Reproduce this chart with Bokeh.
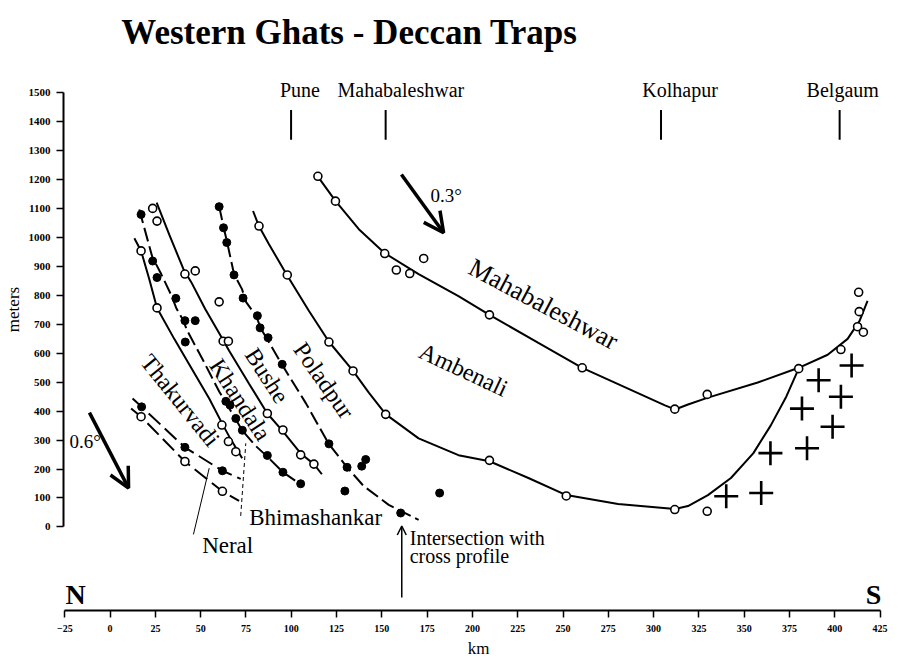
import math
from bokeh.plotting import figure
from bokeh.models import Range1d, FixedTicker, Arrow, OpenHead
from bokeh.core.properties import value
from bokeh.embed import file_html
from bokeh.resources import INLINE

# ---------------- data (km along profile, metres) ----------------
x_ticks = [-25, 0, 25, 50, 75, 100, 125, 150, 175, 200, 225, 250, 275, 300, 325, 350, 375, 400, 425]
y_ticks = list(range(0, 1501, 100))

city_names = ["Pune", "Mahabaleshwar", "Kolhapur", "Belgaum"]
city_km = [99.9, 152.1, 304.1, 402.7]
city_label_km = [104.8, 160.5, 314.6, 404.4]

# open-circle samples
mahab_km = [114.7, 124.4, 151.6, 158.0, 165.4, 173.1, 209.4, 260.6, 311.7, 329.6, 380.1, 403.4, 412.6, 415.8, 413.5, 413.2]
mahab_m = [1212, 1126, 945, 888, 876, 928, 733, 550, 407, 458, 547, 613, 692, 673, 744, 811]
poladpur_km = [82.2, 97.8, 120.8, 134.1, 152.1, 209.4, 251.8, 311.7, 329.6]
poladpur_m = [1040, 871, 639, 539, 389, 230, 107, 60, 54]
khandala_km = [23.5, 25.9, 41.3, 47.0, 60.2, 62.4, 65.3, 86.8, 95.4, 105.2, 112.5]
khandala_m = [1101, 1057, 874, 885, 778, 642, 642, 392, 335, 249, 217]
bhima_km = [17.1, 25.9, 61.7, 65.3, 69.4]
bhima_m = [954, 757, 352, 295, 260]
neral_km = [17.1, 41.3, 62.0]
neral_m = [381, 226, 123]

# filled-dot samples
thak_km = [17.4, 41.3, 62.0]
thak_m = [415, 275, 194]
khtop_km = [17.1, 23.5, 25.9, 36.3, 41.3, 47.0, 41.5, 63.9, 66.2, 69.4, 73.0, 86.8, 95.4, 105.2]
khtop_m = [1080, 919, 862, 790, 713, 713, 639, 434, 421, 375, 334, 247, 189, 149]
bushe_km = [60.2, 62.6, 64.4, 68.4, 73.4, 81.3, 82.8, 87.2, 95.0, 120.8, 130.8, 138.9, 141.1, 129.6, 160.4, 181.9]
bushe_m = [1107, 1034, 983, 871, 791, 730, 688, 654, 562, 287, 206, 210, 233, 124, 48, 117]

# crosses (basement / other samples)
cross_km = [340.1, 359.4, 364.5, 384.7, 381.9, 398.8, 403.4, 391.1, 409.3]
cross_m = [106, 117, 255, 272, 409, 346, 450, 507, 558]

# fitted boundary curves
c_mahab_km = [114.7, 124.6, 137.3, 151.6, 170.3, 192.3, 209.4, 236.4, 260.6, 285.9, 306.3, 311.8, 319.0, 330.0, 357.5, 380.1, 396.1, 407.1, 413.7, 418.1]
c_mahab_m = [1211, 1125, 1029, 946, 874, 798, 733, 636, 550, 478, 420, 406, 423, 447, 499, 550, 595, 650, 712, 781]
c_pol_km = [78.9, 82.2, 87.7, 97.6, 109.7, 120.8, 134.0, 142.8, 152.2, 170.3, 192.3, 209.4, 230.9, 251.8, 280.4, 311.8, 319.0, 330.0, 342.7, 355.1, 364.7, 373.3, 379.6]
c_pol_m = [1092, 1039, 977, 871, 747, 640, 540, 464, 389, 306, 248, 227, 169, 110, 79, 62, 72, 110, 169, 255, 351, 451, 540]
c_bushe_km = [60.2, 62.9, 64.6, 68.4, 72.8, 75.1, 80.6, 83.3, 94.9, 108.1, 120.8, 130.7, 140.0, 153.8, 170.3]
c_bushe_m = [1108, 1029, 984, 874, 822, 777, 729, 685, 561, 427, 286, 207, 141, 76, 24]
c_kh_km = [25.7, 32.6, 40.5, 44.8, 52.5, 61.1, 65.7, 76.7, 86.8, 95.4, 105.2, 112.5, 116.9]
c_kh_m = [1121, 1011, 891, 846, 753, 660, 609, 495, 392, 330, 254, 217, 182]
c_khtop_km = [16.1, 23.3, 28.2, 33.7, 36.5, 40.4, 42.6, 51.4, 60.2, 66.8, 72.9, 80.0, 86.6, 95.4, 105.9]
c_khtop_m = [1097, 933, 874, 802, 757, 713, 678, 575, 468, 399, 334, 282, 244, 189, 144]
c_bhima_km = [13.4, 17.1, 21.6, 25.9, 35.4, 43.7, 54.7, 62.4, 66.3, 69.6, 72.9]
c_bhima_m = [998, 954, 857, 757, 650, 561, 444, 351, 306, 272, 237]
c_neral_km = [11.6, 17.1, 41.3, 62.0, 71.2]
c_neral_m = [409, 381, 226, 123, 90]
c_thak_km = [12.4, 17.4, 41.3, 62.0, 72.1]
c_thak_m = [444, 415, 275, 194, 166]

unit_names = ["Mahabaleshwar", "Ambenali", "Poladpur", "Bushe", "Khandala", "Thakurvadi"]
unit_km = [239.2, 195.1, 118.0, 86.6, 71.8, 38.7]
unit_m = [770, 543, 506, 523, 440, 437]
unit_angle = [-28, -25, -55, -57, -57, -51]
unit_size = ["26px", "24px", "24px", "24px", "24px", "24px"]

# ---------------- figure ----------------
SERIF = value("Liberation Serif")
p = figure(width=893, height=660, output_backend="svg", toolbar_location=None,
           x_range=Range1d(-25.72, 432.43), y_range=Range1d(-289, 1792),
           min_border_left=61, min_border_right=0, min_border_top=8, min_border_bottom=47)
p.outline_line_color = None
p.xgrid.visible = False
p.ygrid.visible = False
p.background_fill_color = "white"

for ax, ticks, lbl, b in ((p.xaxis[0], x_ticks, "km", (-25, 425)), (p.yaxis[0], y_ticks, "meters", (0, 1500))):
    ax.ticker = FixedTicker(ticks=ticks)
    ax.bounds = b
    ax.axis_label = lbl
    ax.axis_line_width = 2
    ax.major_tick_line_width = 1.5
    ax.major_tick_out = 7
    ax.major_tick_in = 0
    ax.minor_tick_out = 0
    ax.minor_tick_in = 0
    ax.major_label_text_font = "Liberation Serif"
    ax.major_label_text_font_style = "bold"
    ax.major_label_text_font_size = "10px"
    ax.major_label_text_color = "black"
    ax.axis_label_text_font = "Liberation Serif"
    ax.axis_label_text_font_style = "normal"
    ax.axis_label_text_font_size = "17px"
    ax.axis_label_text_color = "black"
p.yaxis.major_label_text_font_size = "11px"
p.xaxis.major_label_standoff = 7
p.yaxis.major_label_standoff = 6
p.xaxis.axis_label_standoff = 4
p.yaxis.axis_label_standoff = 3

# curves
p.line(c_mahab_km, c_mahab_m, line_color="black", line_width=2)
p.line(c_pol_km, c_pol_m, line_color="black", line_width=2)
p.line(c_bushe_km, c_bushe_m, line_color="black", line_width=2, line_dash="14 5")
p.line(c_kh_km, c_kh_m, line_color="black", line_width=2)
p.line(c_khtop_km, c_khtop_m, line_color="black", line_width=2, line_dash="14 5")
p.line(c_bhima_km, c_bhima_m, line_color="black", line_width=2)
p.line(c_neral_km, c_neral_m, line_color="black", line_width=2, line_dash="16 6")
p.line(c_thak_km, c_thak_m, line_color="black", line_width=2, line_dash="16 6")

# leader lines
p.line([46.0, 54.7], [-26, 203], line_color="black", line_width=1)
p.line([72.1, 74.9], [38, 289], line_color="black", line_width=1, line_dash="4 3")

# markers
for xs, ys in ((mahab_km, mahab_m), (poladpur_km, poladpur_m), (khandala_km, khandala_m),
               (bhima_km, bhima_m), (neral_km, neral_m)):
    p.scatter(xs, ys, marker="circle", size=8, fill_color="white", line_color="black", line_width=1.6)
for xs, ys in ((thak_km, thak_m), (khtop_km, khtop_m), (bushe_km, bushe_m)):
    p.scatter(xs, ys, marker="circle", size=8, fill_color="black", line_color="black")
p.scatter(cross_km, cross_m, marker="cross", size=24, line_color="black", line_width=2.6)

# city ticks + labels
p.segment(x0=city_km, y0=[1338] * 4, x1=city_km, y1=[1441] * 4, line_color="black", line_width=2)
p.text(x=city_label_km, y=[1510] * 4, text=city_names, text_font=SERIF, text_font_size="20px",
       text_align="center", text_baseline="middle", text_color="black")

# unit labels
p.text(x=unit_km, y=unit_m, text=unit_names, angle=[math.radians(a) for a in unit_angle],
       text_font=SERIF, text_font_size=unit_size, text_align="center", text_baseline="middle",
       text_color="black")

# other texts
p.text(x=[6.2], y=[1710], text=["Western Ghats - Deccan Traps"], text_font=SERIF, text_font_style="bold",
       text_font_size="35px", text_align="left", text_baseline="middle", text_color="black")
p.text(x=[50.8, 76.8], y=[-65, 31], text=["Neral", "Bhimashankar"], text_font=SERIF,
       text_font_size="23px", text_align="left", text_baseline="middle", text_color="black")
p.text(x=[165.4, 165.4], y=[-40, -100], text=["Intersection with", "cross profile"], text_font=SERIF,
       text_font_size="20px", text_align="left", text_baseline="middle", text_color="black")
p.text(x=[176.9, -22.4], y=[1146, 296], text=["0.3°", "0.6°"], text_font=SERIF,
       text_font_size="19px", text_align="left", text_baseline="middle", text_color="black")
p.text(x=[-19.1, 421.4], y=[-234, -234], text=["N", "S"], text_font=SERIF, text_font_style="bold",
       text_font_size="28px", text_align="center", text_baseline="middle", text_color="black")

# arrows
p.add_layout(Arrow(end=OpenHead(size=20, line_width=3.5), x_start=160.8, y_start=1218, x_end=184.1, y_end=1017,
                   line_width=3.5))
p.add_layout(Arrow(end=OpenHead(size=20, line_width=3.5), x_start=-11.4, y_start=395, x_end=10.2, y_end=134,
                   line_width=3.5))
p.add_layout(Arrow(end=OpenHead(size=9, line_width=1.5), x_start=161.0, y_start=-244, x_end=161.0, y_end=3,
                   line_width=1.5))

open("out.html", "w").write(file_html(p, INLINE))
